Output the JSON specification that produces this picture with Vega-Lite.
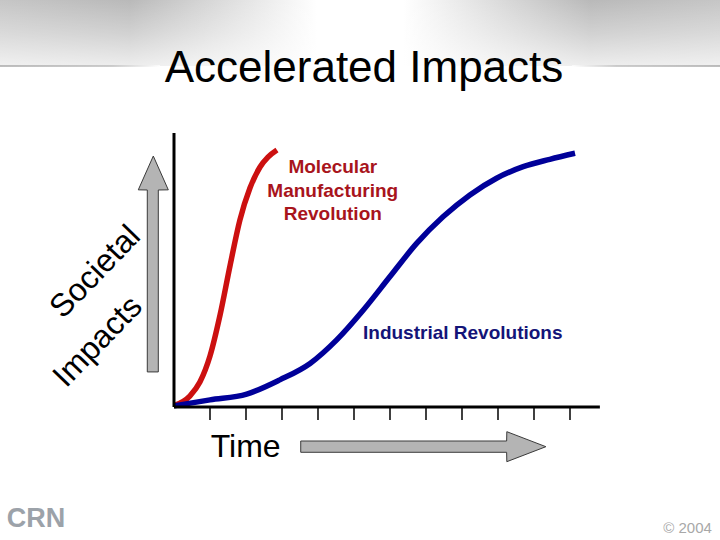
{
  "$schema": "https://vega.github.io/schema/vega-lite/v6.json",
  "width": 720,
  "height": 540,
  "padding": 0,
  "autosize": {"type": "fit", "contains": "padding"},
  "background": "#ffffff",
  "config": {"view": {"stroke": null}},
  "datasets": {
    "bgBand": [{"x": -4.8333, "x2": 15.1667, "y": 124.45, "y2": 148.54}],
    "lineLeft": [{"x": -4.8333, "x2": -0.39, "y": 124.16, "y2": 124.74}],
    "lineRight": [{"x": 11.06, "x2": 15.1667, "y": 124.16, "y2": 124.74}],
    "axes": [
      {"x": 0, "y": 0, "x2": 0, "y2": 100},
      {"x": 0, "y": 0, "x2": 11.83, "y2": 0}
    ],
    "ticks": [
      {"t": 1, "y": 0, "y2": -4.7}, {"t": 2, "y": 0, "y2": -4.7}, {"t": 3, "y": 0, "y2": -4.7},
      {"t": 4, "y": 0, "y2": -4.7}, {"t": 5, "y": 0, "y2": -4.7}, {"t": 6, "y": 0, "y2": -4.7},
      {"t": 7, "y": 0, "y2": -4.7}, {"t": 8, "y": 0, "y2": -4.7}, {"t": 9, "y": 0, "y2": -4.7},
      {"t": 10, "y": 0, "y2": -4.7}, {"t": 11, "y": 0, "y2": -4.7}
    ],
    "curves": [
      {"series": "Molecular Manufacturing Revolution", "t": 0.0, "v": 0.5},
      {"series": "Molecular Manufacturing Revolution", "t": 0.44, "v": 4.0},
      {"series": "Molecular Manufacturing Revolution", "t": 0.72, "v": 9.1},
      {"series": "Molecular Manufacturing Revolution", "t": 1.0, "v": 18.6},
      {"series": "Molecular Manufacturing Revolution", "t": 1.28, "v": 33.6},
      {"series": "Molecular Manufacturing Revolution", "t": 1.56, "v": 51.8},
      {"series": "Molecular Manufacturing Revolution", "t": 1.83, "v": 68.2},
      {"series": "Molecular Manufacturing Revolution", "t": 2.11, "v": 79.9},
      {"series": "Molecular Manufacturing Revolution", "t": 2.39, "v": 87.6},
      {"series": "Molecular Manufacturing Revolution", "t": 2.61, "v": 91.2},
      {"series": "Molecular Manufacturing Revolution", "t": 2.86, "v": 93.8},
      {"series": "Industrial Revolutions", "t": 0.0, "v": 0.4},
      {"series": "Industrial Revolutions", "t": 1.0, "v": 2.6},
      {"series": "Industrial Revolutions", "t": 2.02, "v": 4.7},
      {"series": "Industrial Revolutions", "t": 2.94, "v": 9.9},
      {"series": "Industrial Revolutions", "t": 3.78, "v": 15.9},
      {"series": "Industrial Revolutions", "t": 4.52, "v": 24.5},
      {"series": "Industrial Revolutions", "t": 5.26, "v": 35.4},
      {"series": "Industrial Revolutions", "t": 6.0, "v": 47.6},
      {"series": "Industrial Revolutions", "t": 6.74, "v": 59.7},
      {"series": "Industrial Revolutions", "t": 7.48, "v": 69.5},
      {"series": "Industrial Revolutions", "t": 8.22, "v": 77.4},
      {"series": "Industrial Revolutions", "t": 8.96, "v": 83.5},
      {"series": "Industrial Revolutions", "t": 9.7, "v": 87.7},
      {"series": "Industrial Revolutions", "t": 10.44, "v": 90.4},
      {"series": "Industrial Revolutions", "t": 11.14, "v": 92.6}
    ],
    "arrowUp": [
      {"v": 12.8, "a": -0.742, "b": -0.436},
      {"v": 79.2, "a": -0.742, "b": -0.436},
      {"v": 79.25, "a": -0.992, "b": -0.158},
      {"v": 91.6, "a": -0.575, "b": -0.575}
    ],
    "arrowRight": [
      {"t": 3.52, "a": -12.41, "b": -16.53},
      {"t": 9.24, "a": -12.41, "b": -16.53},
      {"t": 9.245, "a": -9.01, "b": -19.96},
      {"t": 10.33, "a": -14.49, "b": -14.49}
    ],
    "title": [{"t": 5.278, "v": 118.6, "label": "Accelerated Impacts"}],
    "mmLabel": [
      {"t": 4.41, "v": 85.4, "label": "Molecular"},
      {"t": 4.41, "v": 76.6, "label": "Manufacturing"},
      {"t": 4.41, "v": 68.1, "label": "Revolution"}
    ],
    "irLabel": [{"t": 5.25, "v": 24.7, "label": "Industrial Revolutions"}],
    "timeLabel": [{"t": 1.02, "v": -18.1, "label": "Time"}],
    "impactLabel": [
      {"t": -2.19, "v": 49.3, "label": "Societal"},
      {"t": -2.12, "v": 23.9, "label": "Impacts"}
    ],
    "copyright": [{"t": 14.94, "v": -46.0, "label": "© 2004"}],
    "logo": [{"t": -4.647, "v": -43.8, "label": "CRN"}]
  },
  "layer": [
    {
      "data": {"name": "bgBand"},
      "mark": {"type": "rect", "fill": {"gradient": "linear", "x1": 0, "y1": 0, "x2": 1, "y2": 0, "stops": [{"offset": 0, "color": "#c6c6c6"}, {"offset": 0.18, "color": "#b9b9b9"}, {"offset": 0.37, "color": "#ececec"}, {"offset": 0.44, "color": "#ffffff"}, {"offset": 0.56, "color": "#ffffff"}, {"offset": 0.63, "color": "#ececec"}, {"offset": 0.82, "color": "#b9b9b9"}, {"offset": 1, "color": "#c6c6c6"}]}},
      "encoding": {
        "x": {"field": "x", "type": "quantitative", "scale": {"domain": [-4.8333, 15.1667], "nice": false, "zero": false}, "axis": null},
        "x2": {"field": "x2"},
        "y": {"field": "y", "type": "quantitative", "scale": {"domain": [-48.54, 148.54], "nice": false, "zero": false}, "axis": null},
        "y2": {"field": "y2"}
      }
    },
    {
      "data": {"name": "bgBand"},
      "mark": {"type": "rect", "fill": {"gradient": "linear", "x1": 0, "y1": 0, "x2": 0, "y2": 1, "stops": [{"offset": 0, "color": "rgba(255,255,255,0)"}, {"offset": 0.5, "color": "rgba(255,255,255,0.35)"}, {"offset": 1, "color": "rgba(255,255,255,0.75)"}]}},
      "encoding": {
        "x": {"field": "x", "type": "quantitative", "axis": null},
        "x2": {"field": "x2"},
        "y": {"field": "y", "type": "quantitative", "axis": null},
        "y2": {"field": "y2"}
      }
    },
    {
      "data": {"name": "lineLeft"},
      "mark": {"type": "rect", "fill": {"gradient": "linear", "x1": 0, "y1": 0, "x2": 1, "y2": 0, "stops": [{"offset": 0, "color": "#a8a8a8"}, {"offset": 0.7, "color": "#bdbdbd"}, {"offset": 1, "color": "#ffffff"}]}},
      "encoding": {
        "x": {"field": "x", "type": "quantitative", "axis": null},
        "x2": {"field": "x2"},
        "y": {"field": "y", "type": "quantitative", "axis": null},
        "y2": {"field": "y2"}
      }
    },
    {
      "data": {"name": "lineRight"},
      "mark": {"type": "rect", "fill": {"gradient": "linear", "x1": 1, "y1": 0, "x2": 0, "y2": 0, "stops": [{"offset": 0, "color": "#a8a8a8"}, {"offset": 0.7, "color": "#bdbdbd"}, {"offset": 1, "color": "#ffffff"}]}},
      "encoding": {
        "x": {"field": "x", "type": "quantitative", "axis": null},
        "x2": {"field": "x2"},
        "y": {"field": "y", "type": "quantitative", "axis": null},
        "y2": {"field": "y2"}
      }
    },
    {
      "data": {"name": "arrowUp"},
      "mark": {"type": "area", "orient": "horizontal", "fill": "#b4b4b4", "stroke": "#3a3a3a", "strokeWidth": 1, "fillOpacity": 1},
      "encoding": {
        "y": {"field": "v", "type": "quantitative", "axis": null},
        "x": {"field": "a", "type": "quantitative", "axis": null},
        "x2": {"field": "b"}
      }
    },
    {
      "data": {"name": "arrowRight"},
      "mark": {"type": "area", "orient": "vertical", "fill": "#b4b4b4", "stroke": "#3a3a3a", "strokeWidth": 1, "fillOpacity": 1},
      "encoding": {
        "x": {"field": "t", "type": "quantitative", "axis": null},
        "y": {"field": "a", "type": "quantitative", "axis": null},
        "y2": {"field": "b"}
      }
    },
    {
      "data": {"name": "ticks"},
      "mark": {"type": "rule", "color": "#000000", "strokeWidth": 1.5},
      "encoding": {
        "x": {"field": "t", "type": "quantitative", "axis": null},
        "y": {"field": "y", "type": "quantitative", "axis": null},
        "y2": {"field": "y2"}
      }
    },
    {
      "data": {"name": "curves"},
      "mark": {"type": "line", "strokeWidth": 5.5, "interpolate": "monotone", "strokeCap": "butt"},
      "encoding": {
        "x": {"field": "t", "type": "quantitative", "axis": null},
        "y": {"field": "v", "type": "quantitative", "axis": null},
        "color": {"field": "series", "type": "nominal", "scale": {"domain": ["Molecular Manufacturing Revolution", "Industrial Revolutions"], "range": ["#cc1010", "#000099"]}, "legend": null},
        "order": {"field": "t", "type": "quantitative"}
      }
    },
    {
      "data": {"name": "axes"},
      "mark": {"type": "rule", "color": "#000000", "strokeWidth": 3},
      "encoding": {
        "x": {"field": "x", "type": "quantitative", "axis": null},
        "x2": {"field": "x2"},
        "y": {"field": "y", "type": "quantitative", "axis": null},
        "y2": {"field": "y2"}
      }
    },
    {
      "data": {"name": "title"},
      "mark": {"type": "text", "font": "Liberation Sans", "fontSize": 44, "color": "#000000", "align": "center", "baseline": "alphabetic"},
      "encoding": {
        "x": {"field": "t", "type": "quantitative", "axis": null},
        "y": {"field": "v", "type": "quantitative", "axis": null},
        "text": {"field": "label"}
      }
    },
    {
      "data": {"name": "mmLabel"},
      "mark": {"type": "text", "font": "Liberation Sans", "fontSize": 19, "fontWeight": "bold", "color": "#a8141c", "align": "center", "baseline": "alphabetic"},
      "encoding": {
        "x": {"field": "t", "type": "quantitative", "axis": null},
        "y": {"field": "v", "type": "quantitative", "axis": null},
        "text": {"field": "label"}
      }
    },
    {
      "data": {"name": "irLabel"},
      "mark": {"type": "text", "font": "Liberation Sans", "fontSize": 19, "fontWeight": "bold", "color": "#141478", "align": "left", "baseline": "alphabetic"},
      "encoding": {
        "x": {"field": "t", "type": "quantitative", "axis": null},
        "y": {"field": "v", "type": "quantitative", "axis": null},
        "text": {"field": "label"}
      }
    },
    {
      "data": {"name": "timeLabel"},
      "mark": {"type": "text", "font": "Liberation Sans", "fontSize": 32, "color": "#000000", "align": "left", "baseline": "alphabetic"},
      "encoding": {
        "x": {"field": "t", "type": "quantitative", "axis": null},
        "y": {"field": "v", "type": "quantitative", "axis": null},
        "text": {"field": "label"}
      }
    },
    {
      "data": {"name": "impactLabel"},
      "mark": {"type": "text", "font": "Liberation Sans", "fontSize": 32, "color": "#000000", "align": "center", "baseline": "middle", "angle": -46},
      "encoding": {
        "x": {"field": "t", "type": "quantitative", "axis": null},
        "y": {"field": "v", "type": "quantitative", "axis": null},
        "text": {"field": "label"}
      }
    },
    {
      "data": {"name": "copyright"},
      "mark": {"type": "text", "font": "Liberation Sans", "fontSize": 15, "color": "#a8a8a8", "align": "right", "baseline": "alphabetic"},
      "encoding": {
        "x": {"field": "t", "type": "quantitative", "axis": null},
        "y": {"field": "v", "type": "quantitative", "axis": null},
        "text": {"field": "label"}
      }
    },
    {
      "data": {"name": "logo"},
      "mark": {"type": "text", "font": "Liberation Sans", "fontSize": 27, "fontWeight": "bold", "color": "#9ca2a9", "align": "left", "baseline": "alphabetic"},
      "encoding": {
        "x": {"field": "t", "type": "quantitative", "axis": null},
        "y": {"field": "v", "type": "quantitative", "axis": null},
        "text": {"field": "label"}
      }
    }
  ]
}
